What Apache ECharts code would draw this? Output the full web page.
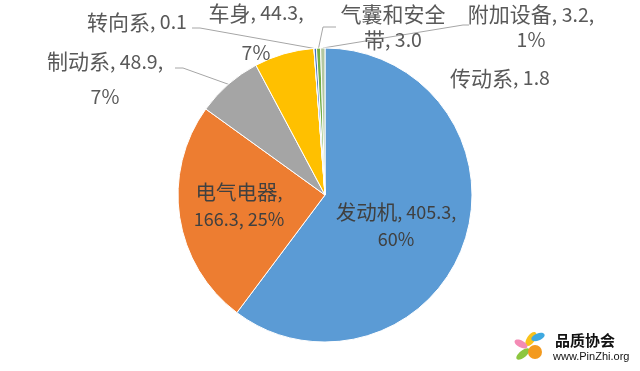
<!DOCTYPE html>
<html>
<head>
<meta charset="utf-8">
<script src="https://cdn.jsdelivr.net/npm/echarts@6/dist/echarts.min.js"></script>
<style>
html,body{margin:0;padding:0;background:#fff;}
#c{width:640px;height:371px;}
</style>
</head>
<body>
<div id="c"></div>
<script>
// ---- data ----
var categories = ['发动机', '电气电器', '制动系', '车身', '转向系', '传动系', '气囊和安全带', '附加设备'];
var values = [405.3, 166.3, 48.9, 44.3, 0.1, 1.8, 3.0, 3.2];
var labelTemplates = [
  '{b}, {c},\n{d}%',
  '{b},\n{c}, {d}%',
  '{b}, {c},\n{d}%',
  '{b}, {c},\n{d}%',
  '{b}, {c}',
  '{b}, {c}',
  '气囊和安全\n带, {c}',
  '{b}, {c},\n{d}%'
];

// ---- styles ----
var colors = ['#5B9BD5', '#ED7D31', '#A5A5A5', '#FFC000', '#264478', '#4472C4', '#70AD47', '#B4C7A0'];
var labelPos = [[396, 226], [239, 206], [105, 79], [256, 33], [137, 22], [500, 78], [393, 27], [531, 27]];
var labelLH = [27, 27, 35, 40, 26, 26, 26, 25];
var labelInside = [true, true, false, false, false, false, false, false];
var leaders = [null, null, [[183, 68], [175, 68]], null, [[200, 28], [192, 28]], null, [[323, 27], [336, 27]], [[463, 25], [469, 25]]];
var FONT = '"Noto Sans CJK SC", "Noto Sans", sans-serif';

var chart = echarts.init(document.getElementById('c'), null, {renderer: 'canvas'});

var data = categories.map(function (n, i) {
  var inside = labelInside[i];
  var col = inside ? '#404040' : '#595959';
  var latin = inside ? 18 : 19.5;
  var cjk = inside ? 20.5 : 21;
  return {
    name: n,
    value: values[i],
    itemStyle: {color: colors[i]},
    label: {
      lineHeight: labelLH[i],
      color: col,
      fontSize: latin,
      rich: {
        h: {fontSize: cjk, lineHeight: labelLH[i], color: col, fontFamily: FONT},
        l: {fontSize: latin, lineHeight: labelLH[i], color: col, fontFamily: FONT}
      }
    },
    labelLine: {show: !!leaders[i]}
  };
});

function richify(line) {
  var parts = line.match(/[\u4e00-\u9fff]+|[^\u4e00-\u9fff]+/g) || [];
  return parts.map(function (s) {
    return /[\u4e00-\u9fff]/.test(s) ? '{h|' + s + '}' : '{l|' + s + '}';
  }).join('');
}

chart.setOption({
  animation: false,
  series: [{
    type: 'pie',
    center: [325, 195],
    radius: 147,
    startAngle: 90,
    clockwise: true,
    percentPrecision: 0,
    avoidLabelOverlap: false,
    itemStyle: {borderColor: '#ffffff', borderWidth: 1},
    label: {
      show: true,
      position: 'outside',
      fontFamily: FONT,
      align: 'center',
      formatter: function (p) {
        var txt = labelTemplates[p.dataIndex]
          .replace('{b}', p.name)
          .replace('{c}', p.value.toFixed(1))
          .replace('{d}', p.percent);
        return txt.split('\n').map(richify).join('\n');
      }
    },
    labelLine: {
      show: true,
      length: 10,
      length2: 10,
      lineStyle: {color: '#A6A6A6', width: 1}
    },
    emphasis: {disabled: true},
    labelLayout: function (params) {
      var i = params.dataIndex;
      var res = {x: labelPos[i][0], y: labelPos[i][1], align: 'center', verticalAlign: 'middle'};
      if (leaders[i] && params.labelLinePoints) {
        res.labelLinePoints = [params.labelLinePoints[0]].concat(leaders[i]);
      }
      return res;
    },
    data: data
  }],
  graphic: [
    {type: 'ellipse', shape: {cx: 531, cy: 339, rx: 4, ry: 8}, rotation: -0.6, originX: 531, originY: 339, style: {fill: '#F9C21B'}},
    {type: 'ellipse', shape: {cx: 521, cy: 344, rx: 3.5, ry: 7}, rotation: 1.1, originX: 521, originY: 344, style: {fill: '#F48BB5'}},
    {type: 'ellipse', shape: {cx: 538, cy: 337, rx: 3.5, ry: 7}, rotation: -1.2, originX: 538, originY: 337, style: {fill: '#3FA9E0'}},
    {type: 'ellipse', shape: {cx: 523, cy: 354, rx: 3.5, ry: 8}, rotation: -0.9, originX: 523, originY: 354, style: {fill: '#8CC63F'}},
    {type: 'circle', shape: {cx: 535, cy: 352, r: 7}, style: {fill: '#F39A1E'}},
    {type: 'text', left: 555, top: 333, style: {text: '品质协会', font: 'bold 15px "Noto Sans CJK SC", sans-serif', fill: '#111111'}},
    {type: 'text', left: 553, top: 351, style: {text: 'www.PinZhi.org', font: '11px "Liberation Sans", Arial, sans-serif', fill: '#111111'}}
  ]
});
</script>
</body>
</html>
